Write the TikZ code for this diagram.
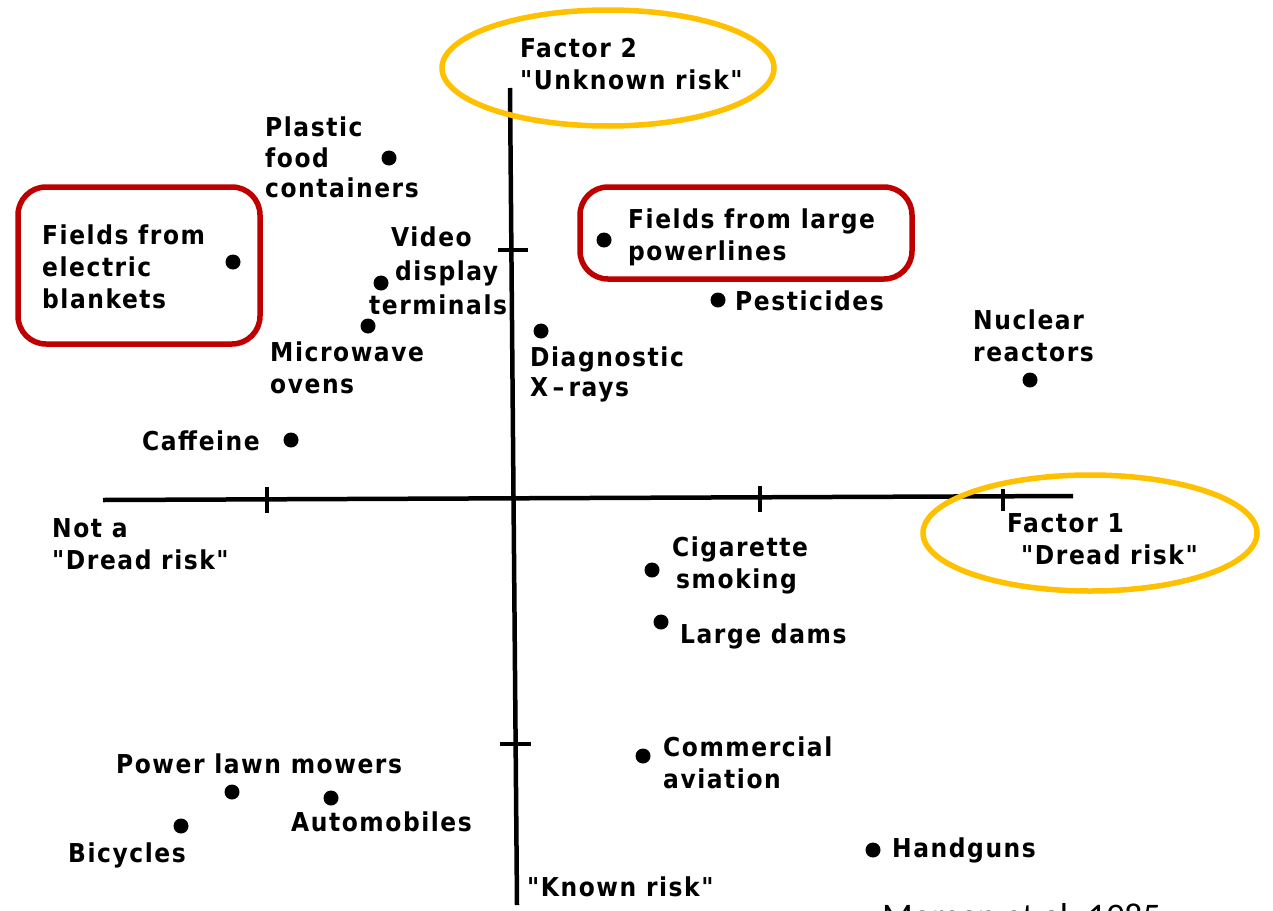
\documentclass[tikz,border=0pt]{standalone}
\usepackage{fontspec}
\newfontfamily\lblfont{DejaVu Sans Condensed}[LetterSpace=6]
\newfontfamily\credfont{Carlito}
\begin{document}
\begin{tikzpicture}[x=1pt,y=-1pt,
  lbl/.style={inner sep=0pt,align=left,font=\lblfont\fontsize{26}{32}\selectfont\bfseries},
  dot/.style={circle,fill=black,inner sep=0pt,minimum size=15pt},
  axis/.style={line width=4.5pt,black},
  tick/.style={line width=3.2pt,black},
  redbox/.style={draw=red!75!black,line width=5.5pt,rounded corners=28pt},
  hilite/.style={draw={rgb,255:red,255;green,192;blue,0},line width=5.5pt}]
\useasboundingbox (0,0) rectangle (1273,910);
% axes
\coordinate (vtop) at (510,88);
\coordinate (vbot) at (517,905);
\coordinate (hleft) at (103,500);
\coordinate (hright) at (1073,496);
\draw[axis] (vtop) -- (vbot);
\draw[axis] (hleft) -- (hright);
% ticks
\coordinate (t1a) at (498,250); \coordinate (t1b) at (528,250);
\coordinate (t2a) at (500,744); \coordinate (t2b) at (531,744);
\coordinate (t3a) at (267,487); \coordinate (t3b) at (267,513);
\coordinate (t4a) at (760,486); \coordinate (t4b) at (760,512);
\coordinate (t5a) at (1003,489); \coordinate (t5b) at (1003,511);
\draw[tick] (t1a) -- (t1b);
\draw[tick] (t2a) -- (t2b);
\draw[tick] (t3a) -- (t3b);
\draw[tick] (t4a) -- (t4b);
\draw[tick] (t5a) -- (t5b);
% axis labels
\node[lbl,anchor=north west] (f2) at (520,38) {Factor 2\\"Unknown risk"};
\node[lbl,anchor=north west] (f1) at (1007,513) {Factor 1\\\hspace*{14pt}"Dread risk"};
\node[lbl,anchor=north west] (notdread) at (52,518) {Not a\\"Dread risk"};
\node[lbl,anchor=base west] (known) at (527,896) {"Known risk"};
% dots
\node[dot] (dplastic) at (389,158) {};
\node[dot] (dblanket) at (233,262) {};
\node[dot] (dvdt) at (381,283) {};
\node[dot] (dmicro) at (368,326) {};
\node[dot] (dcaff) at (291,440) {};
\node[dot] (dxray) at (541,331) {};
\node[dot] (dpower) at (604,240) {};
\node[dot] (dpest) at (718,300) {};
\node[dot] (dnuc) at (1030,380) {};
\node[dot] (dcig) at (652,570) {};
\node[dot] (ddams) at (661,622) {};
\node[dot] (dair) at (643,756) {};
\node[dot] (dgun) at (873,850) {};
\node[dot] (dmower) at (232,792) {};
\node[dot] (dauto) at (331,798) {};
\node[dot] (dbike) at (181,826) {};
% labels
\node[lbl,anchor=north west,font=\lblfont\fontsize{26}{30.5}\selectfont\bfseries] (lplastic) at (265,117) {Plastic\\food\\containers};
\node[lbl,anchor=north west] (lblanket) at (42,225) {Fields from\\electric\\blankets};
\node[lbl,anchor=north west,font=\lblfont\fontsize{26}{34}\selectfont\bfseries] (lvdt) at (369,227) {\hspace*{22pt}Video\\\hspace*{26pt}display\\terminals};
\node[lbl,anchor=north west] (lmicro) at (270,342) {Microwave\\ovens};
\node[lbl,anchor=base west] (lcaff) at (142,450) {Caffeine};
\node[lbl,anchor=north west,font=\lblfont\fontsize{26}{30}\selectfont\bfseries] (lxray) at (530,347) {Diagnostic\\X\,–\,rays};
\node[lbl,anchor=north west] (lpower) at (628,209) {Fields from large\\powerlines};
\node[lbl,anchor=base west] (lpest) at (735,310) {Pesticides};
\node[lbl,anchor=north west] (lnuc) at (973,310) {Nuclear\\reactors};
\node[lbl,anchor=north west] (lcig) at (672,537) {Cigarette\\\hspace*{4pt}smoking};
\node[lbl,anchor=base west] (ldams) at (680,643) {Large dams};
\node[lbl,anchor=north west] (lair) at (663,737) {Commercial\\aviation};
\node[lbl,anchor=base west] (lgun) at (892,857) {Handguns};
\node[lbl,anchor=base west] (lmower) at (116,773) {Power lawn mowers};
\node[lbl,anchor=base west] (lauto) at (291,831) {Automobiles};
\node[lbl,anchor=base west] (lbike) at (68,862) {Bicycles};
% highlights
\draw[redbox] (18,187) rectangle (260,344);
\draw[redbox] (580,187) rectangle (912,279);
\draw[hilite] (608,68) ellipse [x radius=166pt, y radius=58pt];
\draw[hilite] (1090,533) ellipse [x radius=167pt, y radius=58pt];
% cut-off credit (the reference shows only its top edge)
\begin{scope}
\clip (0,0) rectangle (1273,910);
\node[inner sep=0pt,anchor=base west,font=\credfont\fontsize{36}{40}\selectfont] (credit) at (882,928) {Morgan et al. 1985};
\end{scope}
\end{tikzpicture}
\end{document}
